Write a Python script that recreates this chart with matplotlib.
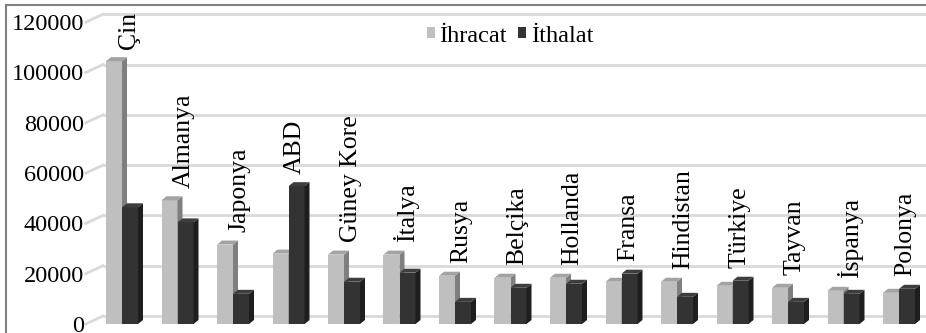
import matplotlib
matplotlib.use("Agg")
import matplotlib.pyplot as plt
from matplotlib.patches import Polygon, Patch
from matplotlib.lines import Line2D

plt.rcParams['font.family'] = ['Liberation Serif', 'DejaVu Serif']

# --- data ---------------------------------------------------------------
countries = ["Çin", "Almanya", "Japonya", "ABD", "Güney Kore", "İtalya", "Rusya",
             "Belçika", "Hollanda", "Fransa", "Hindistan", "Türkiye", "Tayvan",
             "İspanya", "Polonya"]
ihracat = [104500, 49200, 31600, 28000, 27600, 27600, 19200, 18400, 18400,
           16800, 16800, 15200, 14400, 13200, 12400]
ithalat = [46400, 40400, 12000, 54800, 16800, 20400, 8800, 14400, 16000,
           20000, 10800, 17200, 8800, 12000, 14000]
series_names = ["İhracat", "İthalat"]
yticks = [0, 20000, 40000, 60000, 80000, 100000, 120000]

# --- layout -------------------------------------------------------------
W, H, DPI = 926, 333, 100
fig = plt.figure(figsize=(W / DPI, H / DPI), dpi=DPI)
fig.patch.set_facecolor("white")

ax_l, ax_r, ax_t, ax_b = 88, 926, 5, 324          # axes box in pixels
px_per_cat = 55.5                                  # pixels per category
x0_px = 122                                        # pixel of first category centre
px_per_unit = 301.8 / 120000.0                     # vertical pixels per value unit

ax = fig.add_axes([ax_l / W, (H - ax_b) / H, (ax_r - ax_l) / W, (ax_b - ax_t) / H])
xmin = -(x0_px - ax_l) / px_per_cat
xmax = (ax_r - x0_px) / px_per_cat
ymax = (ax_b - ax_t) / px_per_unit
ax.set_xlim(xmin, xmax)
ax.set_ylim(0, ymax)
for s in ax.spines.values():
    s.set_visible(False)
ax.set_xticks([])
ax.set_yticks(yticks)
ax.set_yticklabels([str(v) for v in yticks], fontsize=17.5)
ax.tick_params(axis='y', length=0, pad=3)

# depth of the back wall and of each bar (converted from pixels to data units)
wall_dx = 15 / px_per_cat
wall_dy = 8 / px_per_unit
bar_dx = 5 / px_per_cat
bar_dy = 4 / px_per_unit

grid_col = "#d9d9d9"
for v in yticks:
    ax.plot([xmin + wall_dx, xmax + 1], [v + wall_dy, v + wall_dy],
            color=grid_col, lw=2, zorder=1, clip_on=False, solid_capstyle='butt')
    ax.plot([xmin - 0.04, xmin + wall_dx], [v, v + wall_dy],
            color=grid_col, lw=2, zorder=1, clip_on=False)

# --- 3-D style columns --------------------------------------------------
bw = 16 / px_per_cat
light = dict(front="#bfbfbf", side="#7f7f7f", top="#a3a3a3")
dark = dict(front="#333333", side="#1e1e1e", top="#3d3d3d")


def column(xc, v, cols, z):
    xl, xr = xc - bw / 2, xc + bw / 2
    ax.bar(xc, v, width=bw, color=cols["front"], zorder=z, linewidth=0)
    ax.add_patch(Polygon([(xr, 0), (xr + bar_dx, bar_dy), (xr + bar_dx, v + bar_dy), (xr, v)],
                         closed=True, facecolor=cols["side"], edgecolor="none", zorder=z))
    ax.add_patch(Polygon([(xl, v), (xr, v), (xr + bar_dx, v + bar_dy), (xl + bar_dx, v + bar_dy)],
                         closed=True, facecolor=cols["top"], edgecolor="none", zorder=z))


for i, (a, b) in enumerate(zip(ihracat, ithalat)):
    column(i - bw / 2, a, light, 3 + 2 * i)
    column(i + bw / 2, b, dark, 4 + 2 * i)
    ax.annotate(countries[i], xy=(i + 0.12, max(a, b) + bar_dy), xytext=(0, 6),
                textcoords="offset points", rotation=90, ha="center", va="bottom",
                fontsize=18.5, zorder=50)

# --- legend -------------------------------------------------------------
handles = [Patch(facecolor=light["front"]), Patch(facecolor=dark["front"])]
fig.legend(handles, series_names, loc="center", bbox_to_anchor=(510 / W, (H - 36) / H),
           ncol=2, frameon=False, fontsize=17.5, handlelength=0.32, handleheight=0.32,
           handletextpad=0.2, columnspacing=0.45, borderpad=0)

# --- chart border ------------------------------------------------------
fig.add_artist(Line2D([6 / W, 6 / W], [0, (H - 5) / H], color="#808080", lw=1.5))
fig.add_artist(Line2D([6 / W, 1], [(H - 5) / H, (H - 5) / H], color="#808080", lw=1.5))

fig.savefig("out.png", dpi=DPI)
